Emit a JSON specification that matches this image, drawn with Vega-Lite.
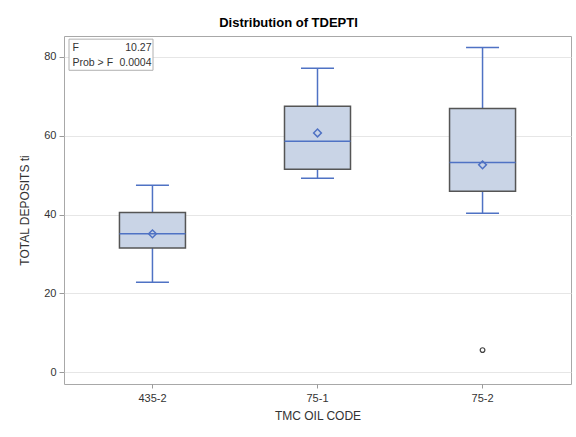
{
  "$schema": "https://vega.github.io/schema/vega-lite/v6.json",
  "width": 507,
  "height": 348,
  "autosize": "none",
  "padding": {"left": 64, "top": 36, "right": 5, "bottom": 53},
  "background": "white",
  "title": {"text": "Distribution of TDEPTI", "font": "Liberation Sans", "fontSize": 13, "fontWeight": "bold", "color": "#000000", "offset": 6, "dx": -29, "anchor": "middle"},
  "config": {
    "view": {"stroke": "#a8a8a8", "strokeWidth": 1},
    "axis": {"labelFont": "Liberation Sans", "labelFontSize": 11, "labelColor": "#333333", "titleFont": "Liberation Sans", "titleFontSize": 12, "titleFontWeight": "normal", "titleColor": "#333333", "tickColor": "#9a9a9a", "domain": false}
  },
  "datasets": {
    "stats": [
      {"code": "435-2", "lo": 22.8, "q1": 31.5, "median": 35.1, "q3": 40.5, "hi": 47.4, "mean": 35.1},
      {"code": "75-1", "lo": 49.2, "q1": 51.5, "median": 58.6, "q3": 67.5, "hi": 77.1, "mean": 60.7},
      {"code": "75-2", "lo": 40.3, "q1": 45.9, "median": 53.2, "q3": 66.9, "hi": 82.4, "mean": 52.6}
    ],
    "outliers": [{"code": "75-2", "value": 5.6}],
    "insetbox": [{"x1": 5, "x2": 89, "y1": 76.6, "y2": 84.5}],
    "insettext": [
      {"label": "F", "px": 8.5, "py": 81.5, "align": "left"},
      {"label": "10.27", "px": 87.5, "py": 81.5, "align": "right"},
      {"label": "Prob > F", "px": 8.5, "py": 77.6, "align": "left"},
      {"label": "0.0004", "px": 87.5, "py": 77.6, "align": "right"}
    ]
  },
  "layer": [
    {
      "encoding": {
        "x": {"field": "code", "type": "nominal", "sort": ["435-2", "75-1", "75-2"],
          "scale": {"type": "band", "paddingInner": 0, "paddingOuter": 0.036},
          "axis": {"title": "TMC OIL CODE", "labelAngle": 0, "tickSize": 4, "labelPadding": 4, "titlePadding": 7, "grid": false}}
      },
      "layer": [
        {
          "data": {"name": "stats"},
          "mark": {"type": "rule", "color": "#4f72c4", "strokeWidth": 1.5},
          "encoding": {
            "y": {"field": "lo", "type": "quantitative", "scale": {"domain": [-3.0, 85.3], "nice": false, "zero": false},
              "axis": {"title": "TOTAL DEPOSITS ti", "values": [0, 20, 40, 60, 80], "tickSize": 5, "labelPadding": 3, "titlePadding": 12, "grid": true, "gridColor": "#e6e6e6"}},
            "y2": {"field": "hi"}
          }
        },
        {
          "data": {"name": "stats"},
          "mark": {"type": "bar", "size": 66, "fill": "#c9d4e6", "stroke": "#555555", "strokeWidth": 1.5},
          "encoding": {"y": {"field": "q1", "type": "quantitative"}, "y2": {"field": "q3"}}
        },
        {
          "data": {"name": "stats"},
          "mark": {"type": "tick", "size": 66, "thickness": 1.5, "color": "#4f72c4", "opacity": 1},
          "encoding": {"y": {"field": "median", "type": "quantitative"}}
        },
        {
          "data": {"name": "stats"},
          "mark": {"type": "tick", "size": 33, "thickness": 1.5, "color": "#4f72c4", "opacity": 1},
          "encoding": {"y": {"field": "hi", "type": "quantitative"}}
        },
        {
          "data": {"name": "stats"},
          "mark": {"type": "tick", "size": 33, "thickness": 1.5, "color": "#4f72c4", "opacity": 1},
          "encoding": {"y": {"field": "lo", "type": "quantitative"}}
        },
        {
          "data": {"name": "stats"},
          "mark": {"type": "point", "shape": "diamond", "filled": false, "stroke": "#4f72c4", "strokeWidth": 1.5, "size": 60, "opacity": 1},
          "encoding": {"y": {"field": "mean", "type": "quantitative"}}
        },
        {
          "data": {"name": "outliers"},
          "mark": {"type": "point", "shape": "circle", "filled": false, "stroke": "#444444", "strokeWidth": 1.2, "size": 22, "opacity": 1},
          "encoding": {"y": {"field": "value", "type": "quantitative"}}
        }
      ]
    },
    {
      "encoding": {
        "x": {"field": "px", "type": "quantitative", "scale": {"domain": [0, 507], "nice": false, "zero": false}, "axis": null},
        "y": {"field": "py", "type": "quantitative", "scale": {"domain": [-3.0, 85.3], "nice": false, "zero": false}, "axis": null}
      },
      "layer": [
        {
          "data": {"name": "insetbox"},
          "mark": {"type": "rect", "fill": "white", "stroke": "#b0b0b0", "strokeWidth": 1},
          "encoding": {
            "x": {"field": "x1", "type": "quantitative", "scale": {"domain": [0, 507], "nice": false, "zero": false}, "axis": null},
            "x2": {"field": "x2"},
            "y": {"field": "y1", "type": "quantitative", "scale": {"domain": [-3.0, 85.3], "nice": false, "zero": false}, "axis": null},
            "y2": {"field": "y2"}
          }
        },
        {
          "data": {"name": "insettext"},
          "transform": [{"filter": "datum.align === 'left'"}],
          "mark": {"type": "text", "align": "left", "baseline": "alphabetic", "font": "Liberation Sans", "fontSize": 10.5, "color": "#333333"},
          "encoding": {"text": {"field": "label"}}
        },
        {
          "data": {"name": "insettext"},
          "transform": [{"filter": "datum.align === 'right'"}],
          "mark": {"type": "text", "align": "right", "baseline": "alphabetic", "font": "Liberation Sans", "fontSize": 10.5, "color": "#333333"},
          "encoding": {"text": {"field": "label"}}
        }
      ]
    }
  ],
  "resolve": {"scale": {"x": "independent", "y": "independent"}}
}
